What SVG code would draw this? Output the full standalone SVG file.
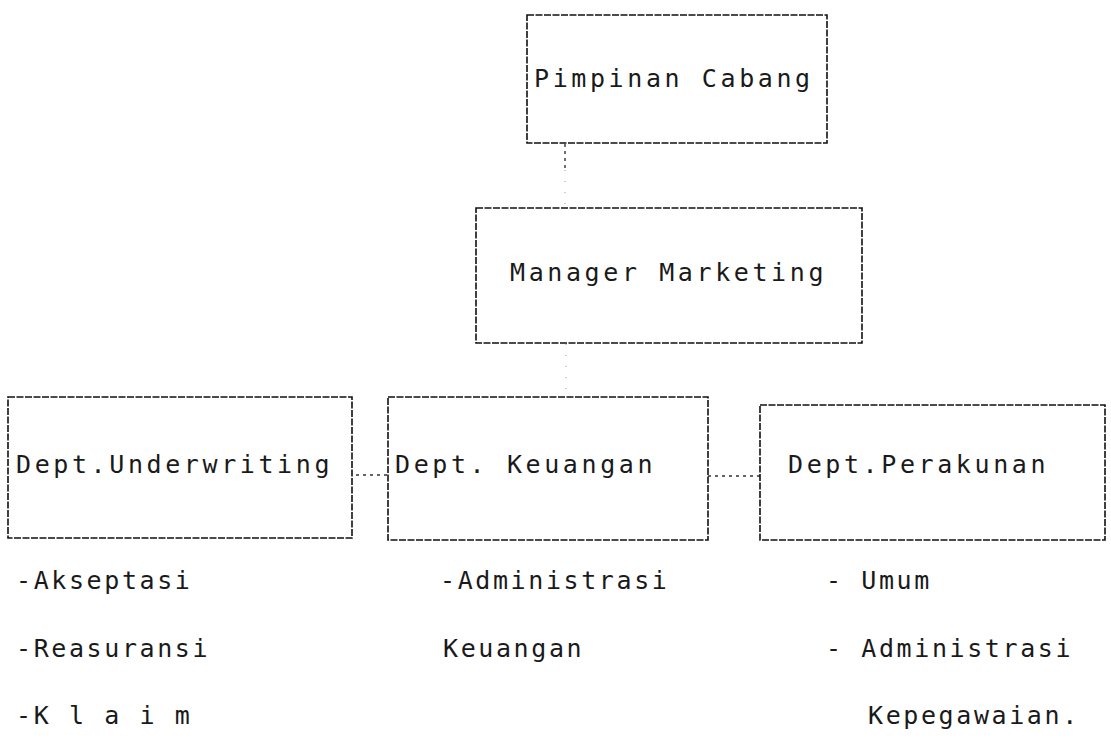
<svg xmlns="http://www.w3.org/2000/svg" width="1111" height="747" viewBox="0 0 1111 747">
<style>
.box{fill:none;stroke:#111;stroke-width:1.6;stroke-dasharray:7 1.5}
.t{font-family:"DejaVu Sans Mono","Liberation Mono",monospace;font-size:25px;letter-spacing:3.6px;fill:#1a1a1a}
.l{font-family:"DejaVu Sans Mono","Liberation Mono",monospace;font-size:25px;letter-spacing:2.6px;fill:#1a1a1a}
.c{fill:none;stroke:#333;stroke-width:1.4;stroke-dasharray:3 4}
.cf{fill:none;stroke:#999;stroke-width:1;stroke-dasharray:1 10}
</style>
<rect width="1111" height="747" fill="#fff"/>
<g id="connectors">
<path class="c" d="M565 144 V170"/>
<path class="cf" d="M565 170 V207"/>
<path class="cf" d="M566 344 V396"/>
<path class="c" d="M356 475 H388"/>
<path class="c" d="M708 476 H760"/>
</g>
<g id="pimpinan">
<rect class="box" x="527" y="15" width="300" height="128"/>
<text class="t" x="534" y="87">Pimpinan Cabang</text>
</g>
<g id="manager">
<rect class="box" x="476" y="208" width="386" height="135"/>
<text class="t" x="510" y="281">Manager Marketing</text>
</g>
<g id="underwriting">
<rect class="box" x="8" y="397" width="344" height="141"/>
<text class="t" x="16" y="473">Dept.Underwriting</text>
</g>
<g id="keuangan">
<rect class="box" x="388" y="397" width="320" height="143"/>
<text class="t" x="395" y="473">Dept. Keuangan</text>
</g>
<g id="perakunan">
<rect class="box" x="760" y="405" width="345" height="135"/>
<text class="t" x="788" y="473">Dept.Perakunan</text>
</g>
<g id="lists">
<text class="l" x="16" y="589">-Akseptasi</text>
<text class="l" x="16" y="657">-Reasuransi</text>
<text class="l" x="16" y="724">-K l a i m</text>
<text class="l" x="440" y="589">-Administrasi</text>
<text class="l" x="443" y="657">Keuangan</text>
<text class="l" x="826" y="589">- Umum</text>
<text class="l" x="826" y="657">- Administrasi</text>
<text class="l" x="868" y="724">Kepegawaian.</text>
</g>
</svg>
